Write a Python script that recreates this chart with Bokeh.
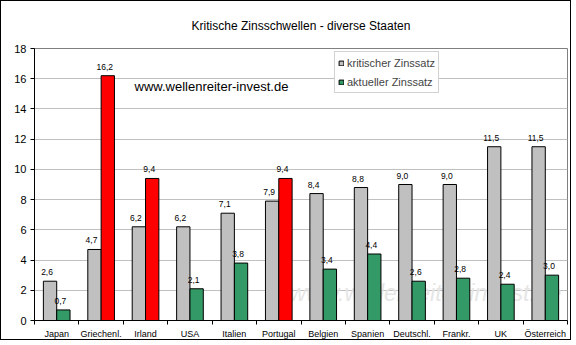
from bokeh.plotting import figure
from bokeh.models import (Range1d, LinearAxis, FixedTicker, Label, Legend, LegendItem,
                          ColumnDataSource)
from bokeh.embed import file_html
from bokeh.resources import INLINE
from bokeh.core.properties import value

# ---------------- data ----------------
categories = ["Japan", "Griechenl.", "Irland", "USA", "Italien", "Portugal",
              "Belgien", "Spanien", "Deutschl.", "Frankr.", "UK", "Österreich"]
kritisch = [2.6, 4.7, 6.2, 6.2, 7.1, 7.9, 8.4, 8.8, 9.0, 9.0, 11.5, 11.5]
aktuell = [0.7, 16.2, 9.4, 2.1, 3.8, 9.4, 3.4, 4.4, 2.6, 2.8, 2.4, 3.0]
red_countries = ["Griechenl.", "Irland", "Portugal"]
y_ticks = [0, 2, 4, 6, 8, 10, 12, 14, 16, 18]
title_text = "Kritische Zinsschwellen - diverse Staaten"
site_text = "www.wellenreiter-invest.de"
series_names = ["kritischer Zinssatz", "aktueller Zinssatz"]

FONT = "Liberation Sans"
GRAY = "#C0C0C0"
GREEN = "#339966"
RED = "#FF0000"

def fmt(v):
    return ("%.1f" % v).replace(".", ",")

idx = list(range(len(categories)))
src_k = ColumnDataSource(dict(x=[i - 0.15 for i in idx], top=kritisch,
                              lab=[fmt(v) for v in kritisch]))
src_a = ColumnDataSource(dict(x=[i + 0.15 for i in idx], top=aktuell,
                              lab=[fmt(v) for v in aktuell],
                              color=[RED if c in red_countries else GREEN for c in categories]))

p = figure(width=571, height=340, output_backend="svg", toolbar_location=None,
           x_range=Range1d(-0.5, len(categories) - 0.5), y_range=Range1d(0, 18),
           x_axis_location=None, y_axis_location=None,
           min_border_left=33, min_border_right=5, min_border_top=45, min_border_bottom=21)
p.styles = {"border": "1px solid black"}
p.background_fill_color = "white"
p.border_fill_color = "white"
p.outline_line_color = "#808080"
p.xgrid.grid_line_color = None
p.ygrid.grid_line_color = GRAY
p.ygrid.ticker = FixedTicker(ticks=y_ticks)

# title
p.title.text = title_text
p.title.align = "center"
p.title.text_font = FONT
p.title.text_font_size = "12px"
p.title.text_font_style = "normal"
p.title.text_color = "black"
p.title.standoff = 31

# y axis
yax = LinearAxis(ticker=FixedTicker(ticks=y_ticks), major_tick_out=4, major_tick_in=0,
                 minor_tick_line_color=None, axis_line_color="black",
                 major_tick_line_color="black", major_label_standoff=4,
                 major_label_text_font=FONT, major_label_text_font_size="11px",
                 major_label_text_color="black")
p.add_layout(yax, "left")

# x axis: labels at category centres, ticks between categories (minor ticks)
xax = LinearAxis(ticker=FixedTicker(ticks=idx,
                                    minor_ticks=[i - 0.5 for i in range(len(categories) + 1)]),
                 major_label_overrides={i: c for i, c in zip(idx, categories)},
                 axis_line_color="black", major_tick_line_color=None,
                 major_tick_out=0, major_tick_in=0,
                 minor_tick_line_color="black", minor_tick_out=4, minor_tick_in=0,
                 major_label_standoff=4,
                 major_label_text_font=FONT, major_label_text_font_size="9px",
                 major_label_text_color="black")
p.add_layout(xax, "below")

# watermark
p.add_layout(Label(x=255, y=15, x_units="screen", y_units="screen", text=site_text,
                   text_font=FONT, text_font_size="23px", text_color="#E6E6E6",
                   text_font_style="italic", level="underlay"))

# bars
rk = p.vbar(x="x", top="top", width=0.3, source=src_k, fill_color=GRAY,
            line_color="black", line_width=1)
ra = p.vbar(x="x", top="top", width=0.3, source=src_a, fill_color="color",
            line_color="black", line_width=1)

# value labels
for src in (src_k, src_a):
    p.text(x="x", y="top", text="lab", source=src, text_font=value(FONT),
           text_font_size="8.5px", text_align="center", text_baseline="alphabetic",
           x_offset=-3, y_offset=-9, text_color="black")

# legend
leg = Legend(items=[LegendItem(label=series_names[0], renderers=[rk], index=0),
                    LegendItem(label=series_names[1], renderers=[ra], index=0)],
             location=(300, 227), orientation="vertical",
             label_text_font=FONT, label_text_font_size="11px",
             glyph_width=6, glyph_height=6, label_height=15, label_standoff=3,
             spacing=4, padding=3, margin=0,
             border_line_color="#A6A6A6", background_fill_color="white",
             background_fill_alpha=1.0)
p.add_layout(leg, "center")

# website text
p.add_layout(Label(x=100, y=234, x_units="screen", y_units="screen", text=site_text,
                   text_font=FONT, text_font_size="13px", text_align="left",
                   text_baseline="middle", text_color="black"))

open("out.html", "w").write(file_html(p, INLINE))
